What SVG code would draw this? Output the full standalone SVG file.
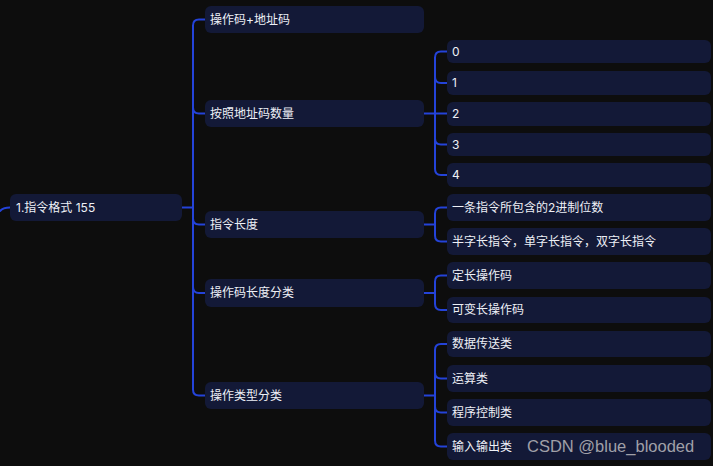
<svg xmlns="http://www.w3.org/2000/svg" width="713" height="466" viewBox="0 0 713 466">
<style>
.bg{fill:#0d0d0d}
.node rect{fill:#131937}
.node text{fill:#eef0f6;font-family:Inter,"Noto Sans CJK SC",sans-serif;font-size:12px}
.conn path{fill:none;stroke:#2443d9;stroke-width:2;stroke-linecap:round}
.wm{fill:#a0a0a8;font-family:"Liberation Sans",Arial,sans-serif;font-size:16.5px}
</style>
<rect class="bg" x="0" y="0" width="713" height="466"/>
<g id="connectors" class="conn">
<path d="M0 211 Q3 207.5 10 207.5"/>
<path d="M182 207.5 H193"/>
<path d="M205 19.5 H199 Q193 19.5 193 25.5 V389.5 Q193 395.5 199 395.5 H205"/>
<path d="M193 107.5 Q193 113.5 199 113.5 H205"/>
<path d="M193 218.5 Q193 224.5 199 224.5 H205"/>
<path d="M193 287 Q193 293 199 293 H205"/>
<path d="M424 113.5 H447"/>
<path d="M447 51.5 H441 Q435 51.5 435 57.5 V169 Q435 175 441 175 H447"/>
<path d="M435 77 Q435 83 441 83 H447"/>
<path d="M435 138.5 Q435 144.5 441 144.5 H447"/>
<path d="M424 224.5 H435"/>
<path d="M447 207.5 H441 Q435 207.5 435 213.5 V235.5 Q435 241.5 441 241.5 H447"/>
<path d="M424 293 H435"/>
<path d="M447 275.5 H441 Q435 275.5 435 281.5 V304 Q435 310 441 310 H447"/>
<path d="M424 395.5 H435"/>
<path d="M447 344 H441 Q435 344 435 350 V440.5 Q435 446.5 441 446.5 H447"/>
<path d="M435 372.5 Q435 378.5 441 378.5 H447"/>
<path d="M435 406.5 Q435 412.5 441 412.5 H447"/>
</g>
<g id="root" class="node"><rect x="10" y="194" width="172" height="27" rx="6"/><text x="16" y="212">1.指令格式 155</text></g>
<g id="n1" class="node"><rect x="205" y="6" width="219" height="27" rx="6"/><text x="210" y="23.5">操作码+地址码</text></g>
<g id="n2" class="node"><rect x="205" y="100" width="219" height="27" rx="6"/><text x="210" y="117.5">按照地址码数量</text></g>
<g id="n3" class="node"><rect x="205" y="211" width="219" height="27" rx="6"/><text x="210" y="228.5">指令长度</text></g>
<g id="n4" class="node"><rect x="205" y="279" width="219" height="28" rx="6"/><text x="210" y="297">操作码长度分类</text></g>
<g id="n5" class="node"><rect x="205" y="382" width="219" height="27" rx="6"/><text x="210" y="399.5">操作类型分类</text></g>
<g id="n2a" class="node"><rect x="447" y="40" width="264" height="23" rx="6"/><text x="452" y="55.5">0</text></g>
<g id="n2b" class="node"><rect x="447" y="71" width="264" height="24" rx="6"/><text x="452" y="87">1</text></g>
<g id="n2c" class="node"><rect x="447" y="102" width="264" height="24" rx="6"/><text x="452" y="118">2</text></g>
<g id="n2d" class="node"><rect x="447" y="133" width="264" height="23" rx="6"/><text x="452" y="148.5">3</text></g>
<g id="n2e" class="node"><rect x="447" y="163" width="264" height="24" rx="6"/><text x="452" y="179">4</text></g>
<g id="n3a" class="node"><rect x="447" y="194" width="264" height="27" rx="6"/><text x="452" y="211.5">一条指令所包含的2进制位数</text></g>
<g id="n3b" class="node"><rect x="447" y="228" width="264" height="27" rx="6"/><text x="452" y="245.5">半字长指令，单字长指令，双字长指令</text></g>
<g id="n4a" class="node"><rect x="447" y="262" width="264" height="27" rx="6"/><text x="452" y="279.5">定长操作码</text></g>
<g id="n4b" class="node"><rect x="447" y="297" width="264" height="26" rx="6"/><text x="452" y="314">可变长操作码</text></g>
<g id="n5a" class="node"><rect x="447" y="331" width="264" height="26" rx="6"/><text x="452" y="348">数据传送类</text></g>
<g id="n5b" class="node"><rect x="447" y="365" width="264" height="27" rx="6"/><text x="452" y="382.5">运算类</text></g>
<g id="n5c" class="node"><rect x="447" y="399" width="264" height="27" rx="6"/><text x="452" y="416.5">程序控制类</text></g>
<g id="n5d" class="node"><rect x="447" y="433" width="264" height="27" rx="6"/><text x="452" y="450.5">输入输出类</text></g>
<text class="wm" x="527" y="452">CSDN @blue_blooded</text>
</svg>
